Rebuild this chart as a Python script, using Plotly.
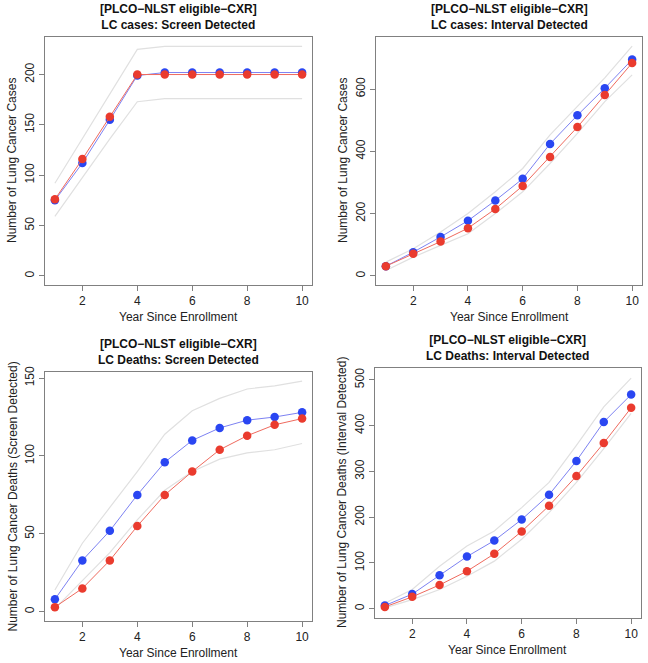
import plotly.graph_objects as go

years = list(range(1, 11))

# Panel 1: LC cases, screen detected
p1_blue = [75, 112, 155, 199, 202, 202, 202, 202, 202, 202]
p1_red = [76, 116, 158, 200, 200, 200, 200, 200, 200, 200]
p1_upper = [92, 136, 180, 225, 228, 228, 228, 228, 228, 228]
p1_lower = [59, 98, 136, 173, 176, 176, 176, 176, 176, 176]

# Panel 2: LC cases, interval detected
p2_blue = [31, 76, 125, 177, 242, 312, 424, 516, 603, 695]
p2_red = [31, 71, 110, 153, 215, 289, 382, 478, 581, 684]
p2_upper = [44, 87, 141, 200, 270, 345, 453, 544, 636, 738]
p2_lower = [17, 60, 98, 135, 200, 270, 361, 458, 560, 646]

# Panel 3: LC deaths, screen detected
p3_blue = [8, 33, 52, 75, 96, 110, 118, 123, 125, 128]
p3_red = [3, 15, 33, 55, 75, 90, 104, 113, 120, 124]
p3_upper = [14, 44, 67, 90, 114, 129, 137, 143, 145, 148]
p3_lower = [2, 20, 38, 59, 78, 90, 98, 102, 104, 108]

# Panel 4: LC deaths, interval detected
p4_blue = [7, 32, 73, 114, 149, 195, 249, 323, 408, 468]
p4_red = [4, 26, 52, 82, 120, 169, 225, 290, 362, 439]
p4_upper = [12, 42, 93, 137, 170, 221, 276, 357, 441, 504]
p4_lower = [2, 20, 42, 71, 104, 152, 210, 276, 350, 427]

titles = [
    "[PLCO\u2212NLST eligible\u2212CXR]<br>LC cases: Screen Detected",
    "[PLCO\u2212NLST eligible\u2212CXR]<br>LC cases: Interval Detected",
    "[PLCO\u2212NLST eligible\u2212CXR]<br>LC Deaths: Screen Detected",
    "[PLCO\u2212NLST eligible\u2212CXR]<br>LC Deaths: Interval Detected",
]
ytitles = [
    "Number of Lung Cancer Cases",
    "Number of Lung Cancer Cases",
    "Number of Lung Cancer Deaths (Screen Detected)",
    "Number of Lung Cancer Deaths (Interval Detected)",
]
xtitle = "Year Since Enrollment"
yticks = [
    [0, 50, 100, 150, 200],
    [0, 200, 400, 600],
    [0, 50, 100, 150],
    [0, 100, 200, 300, 400, 500],
]
xticks = [2, 4, 6, 8, 10]

W, H = 648, 663
# plot boxes in pixels (left, right, top, bottom)
boxes = [(45, 312, 37, 285), (376, 642, 37, 285), (45, 312, 372, 621), (375, 641, 368, 618)]
yranges = [[-9.1, 237.3], [-29.5, 767.5], [-5.9, 153.9], [-20.2, 526]]
xrange_ = [0.64, 10.36]

panels = [
    (p1_blue, p1_red, p1_upper, p1_lower),
    (p2_blue, p2_red, p2_upper, p2_lower),
    (p3_blue, p3_red, p3_upper, p3_lower),
    (p4_blue, p4_red, p4_upper, p4_lower),
]

BLUE = "#2a46f2"
RED = "#ea3b2e"
BAND = "#e0e0e0"
FONT = "Liberation Sans, Arial, sans-serif"

fig = go.Figure()
layout = dict(
    width=W, height=H, margin=dict(l=0, r=0, t=0, b=0, autoexpand=False),
    paper_bgcolor="white", plot_bgcolor="white", showlegend=False,
    font=dict(family=FONT, size=12, color="#222222"),
)
annotations = []
for i, (blue, red, upper, lower) in enumerate(panels):
    n = "" if i == 0 else str(i + 1)
    xa, ya = "x" + n, "y" + n
    for band in (upper, lower):
        fig.add_trace(go.Scatter(x=years, y=band, mode="lines", xaxis=xa, yaxis=ya,
                                 line=dict(color=BAND, width=1.2), hoverinfo="skip"))
    fig.add_trace(go.Scatter(x=years, y=blue, mode="lines+markers", xaxis=xa, yaxis=ya,
                             line=dict(color="#7d82f2", width=1),
                             marker=dict(color=BLUE, size=8.5)))
    fig.add_trace(go.Scatter(x=years, y=red, mode="lines+markers", xaxis=xa, yaxis=ya,
                             line=dict(color="#ef6a5e", width=1),
                             marker=dict(color=RED, size=8.5)))
    l, r, t, b = boxes[i]
    xd = [l / W, r / W]
    yd = [1 - b / H, 1 - t / H]
    axcommon = dict(showline=True, linecolor="#808080", linewidth=1, mirror=True,
                    ticks="outside", ticklen=5, tickcolor="#808080", showgrid=False,
                    zeroline=False, automargin=False, tickfont=dict(size=12, color="#222222"))
    layout["xaxis" + n] = dict(domain=xd, range=xrange_, tickvals=xticks, anchor=ya, **axcommon)
    layout["yaxis" + n] = dict(domain=yd, range=yranges[i], tickvals=yticks[i], anchor=xa,
                               tickangle=-90, **axcommon)
    cx = (xd[0] + xd[1]) / 2
    annotations.append(dict(text="<b>" + titles[i] + "</b>", x=cx, y=yd[1], xref="paper", yref="paper",
                            xanchor="center", yanchor="bottom", yshift=3, showarrow=False,
                            font=dict(size=12, color="#111111")))
    annotations.append(dict(text=xtitle, x=cx, y=1 - (b + 32) / H, xref="paper", yref="paper",
                            xanchor="center", yanchor="middle", showarrow=False,
                            font=dict(size=12, color="#222222")))
    annotations.append(dict(text=ytitles[i], x=(l - 33) / W, y=(yd[0] + yd[1]) / 2,
                            xref="paper", yref="paper", xanchor="center", yanchor="middle",
                            textangle=-90, showarrow=False, font=dict(size=12, color="#222222")))
layout["annotations"] = annotations
fig.update_layout(**layout)
fig.write_html(
    "out.html",
    config={"displayModeBar": False},
    post_script="document.body.style.margin='0';document.body.style.padding='0';"
                "document.body.style.overflow='hidden';",
)
